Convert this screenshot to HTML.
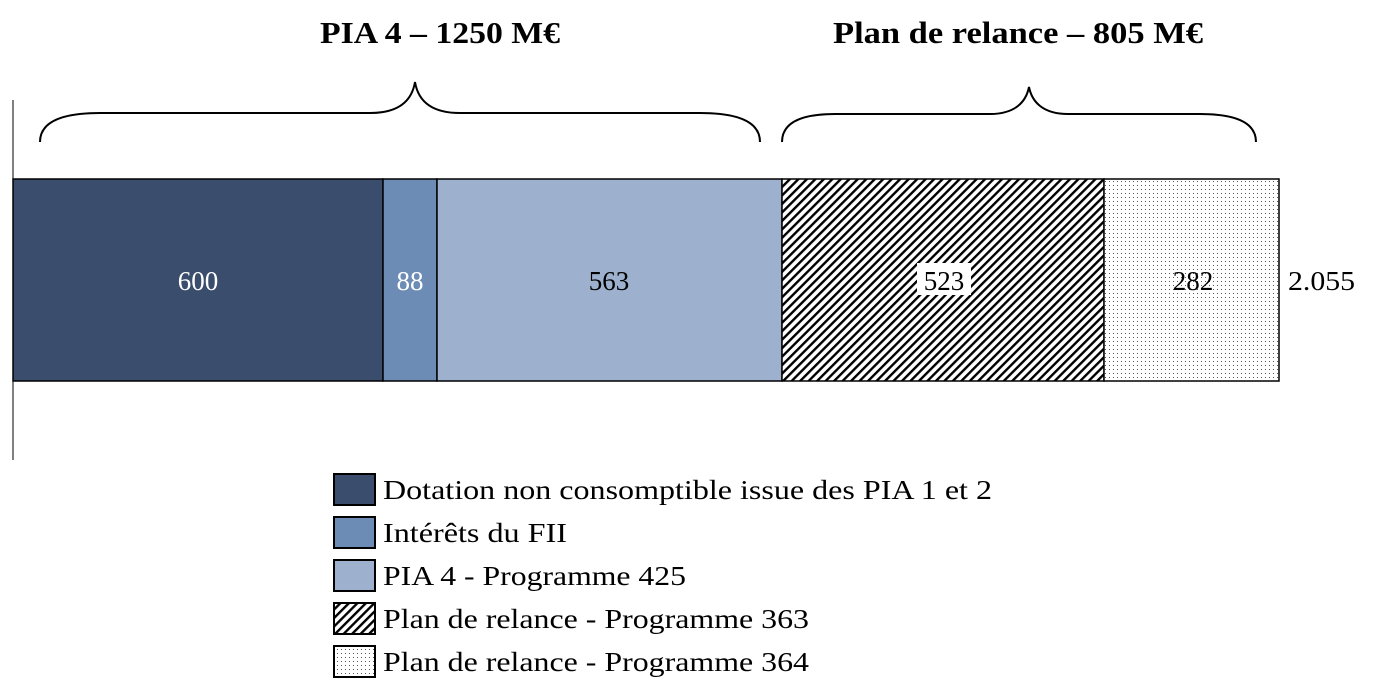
<!DOCTYPE html>
<html><head><style>body{margin:0;background:#fff}svg{display:block}text{font-family:"Liberation Serif",serif}</style></head>
<body>
<svg width="1373" height="697" viewBox="0 0 1373 697" xmlns="http://www.w3.org/2000/svg">
<defs>
<pattern id="h" width="6" height="6" patternUnits="userSpaceOnUse" patternTransform="rotate(45)">
<rect width="6" height="6" fill="#fff"/><rect x="0" y="0" width="2.4" height="6" fill="#000"/></pattern>
<pattern id="d" width="4" height="4" patternUnits="userSpaceOnUse">
<rect width="4" height="4" fill="#fff"/><rect x="1" y="1" width="1" height="1" fill="#555"/></pattern>
</defs>
<text x="320" y="43" font-size="31" font-weight="bold" textLength="240" lengthAdjust="spacingAndGlyphs">PIA 4 – 1250 M€</text>
<text x="833" y="43" font-size="31" font-weight="bold" textLength="370" lengthAdjust="spacingAndGlyphs">Plan de relance – 805 M€</text>
<line x1="13" y1="100" x2="13" y2="460" stroke="#000" stroke-width="1"/>
<path d="M40 142 C40 125 55 113 100 113 L370 113 C400 113 412 100 415 82 C418 100 430 113 460 113 L700 113 C745 113 760 125 760 142" fill="none" stroke="#000" stroke-width="2"/>
<path d="M782 142 C782 125 797 114 835 114 L990 114 C1015 114 1026 102 1029 87 C1032 102 1043 114 1068 114 L1200 114 C1240 114 1256 125 1256 142" fill="none" stroke="#000" stroke-width="2"/>
<rect x="13" y="179" width="370" height="202" fill="#3A4D6D" stroke="#000" stroke-width="1.5"/>
<rect x="383" y="179" width="54" height="202" fill="#6C8CB6" stroke="#000" stroke-width="1.5"/>
<rect x="437" y="179" width="345" height="202" fill="#9DB0CD" stroke="#000" stroke-width="1.5"/>
<rect x="782" y="179" width="322" height="202" fill="url(#h)" stroke="#000" stroke-width="1.5"/>
<rect x="1104" y="179" width="175" height="202" fill="url(#d)" stroke="#000" stroke-width="1.5"/>
<g font-size="27" text-anchor="middle">
<text x="198" y="290" fill="#fff">600</text>
<text x="410" y="290" fill="#fff">88</text>
<text x="609" y="290">563</text>
<rect x="917" y="263" width="54" height="32" fill="#fff"/>
<text x="944" y="290">523</text>
<text x="1193" y="290">282</text>
</g>
<text x="1288" y="290" font-size="27" textLength="67" lengthAdjust="spacingAndGlyphs">2.055</text>
<g stroke="#000" stroke-width="2">
<rect x="334" y="474" width="41" height="31" fill="#3A4D6D"/>
<rect x="334" y="517" width="41" height="31" fill="#6C8CB6"/>
<rect x="334" y="560" width="41" height="31" fill="#9DB0CD"/>
<rect x="334" y="603" width="41" height="31" fill="url(#h)"/>
<rect x="334" y="646" width="41" height="31" fill="url(#d)"/>
</g>
<g font-size="27" lengthAdjust="spacingAndGlyphs">
<text x="383" y="499" textLength="609" lengthAdjust="spacingAndGlyphs">Dotation non consomptible issue des PIA 1 et 2</text>
<text x="383" y="542" textLength="184" lengthAdjust="spacingAndGlyphs">Intérêts du FII</text>
<text x="383" y="585" textLength="303" lengthAdjust="spacingAndGlyphs">PIA 4 - Programme 425</text>
<text x="383" y="628" textLength="426" lengthAdjust="spacingAndGlyphs">Plan de relance - Programme 363</text>
<text x="383" y="671" textLength="426" lengthAdjust="spacingAndGlyphs">Plan de relance - Programme 364</text>
</g>
</svg>
</body></html>
